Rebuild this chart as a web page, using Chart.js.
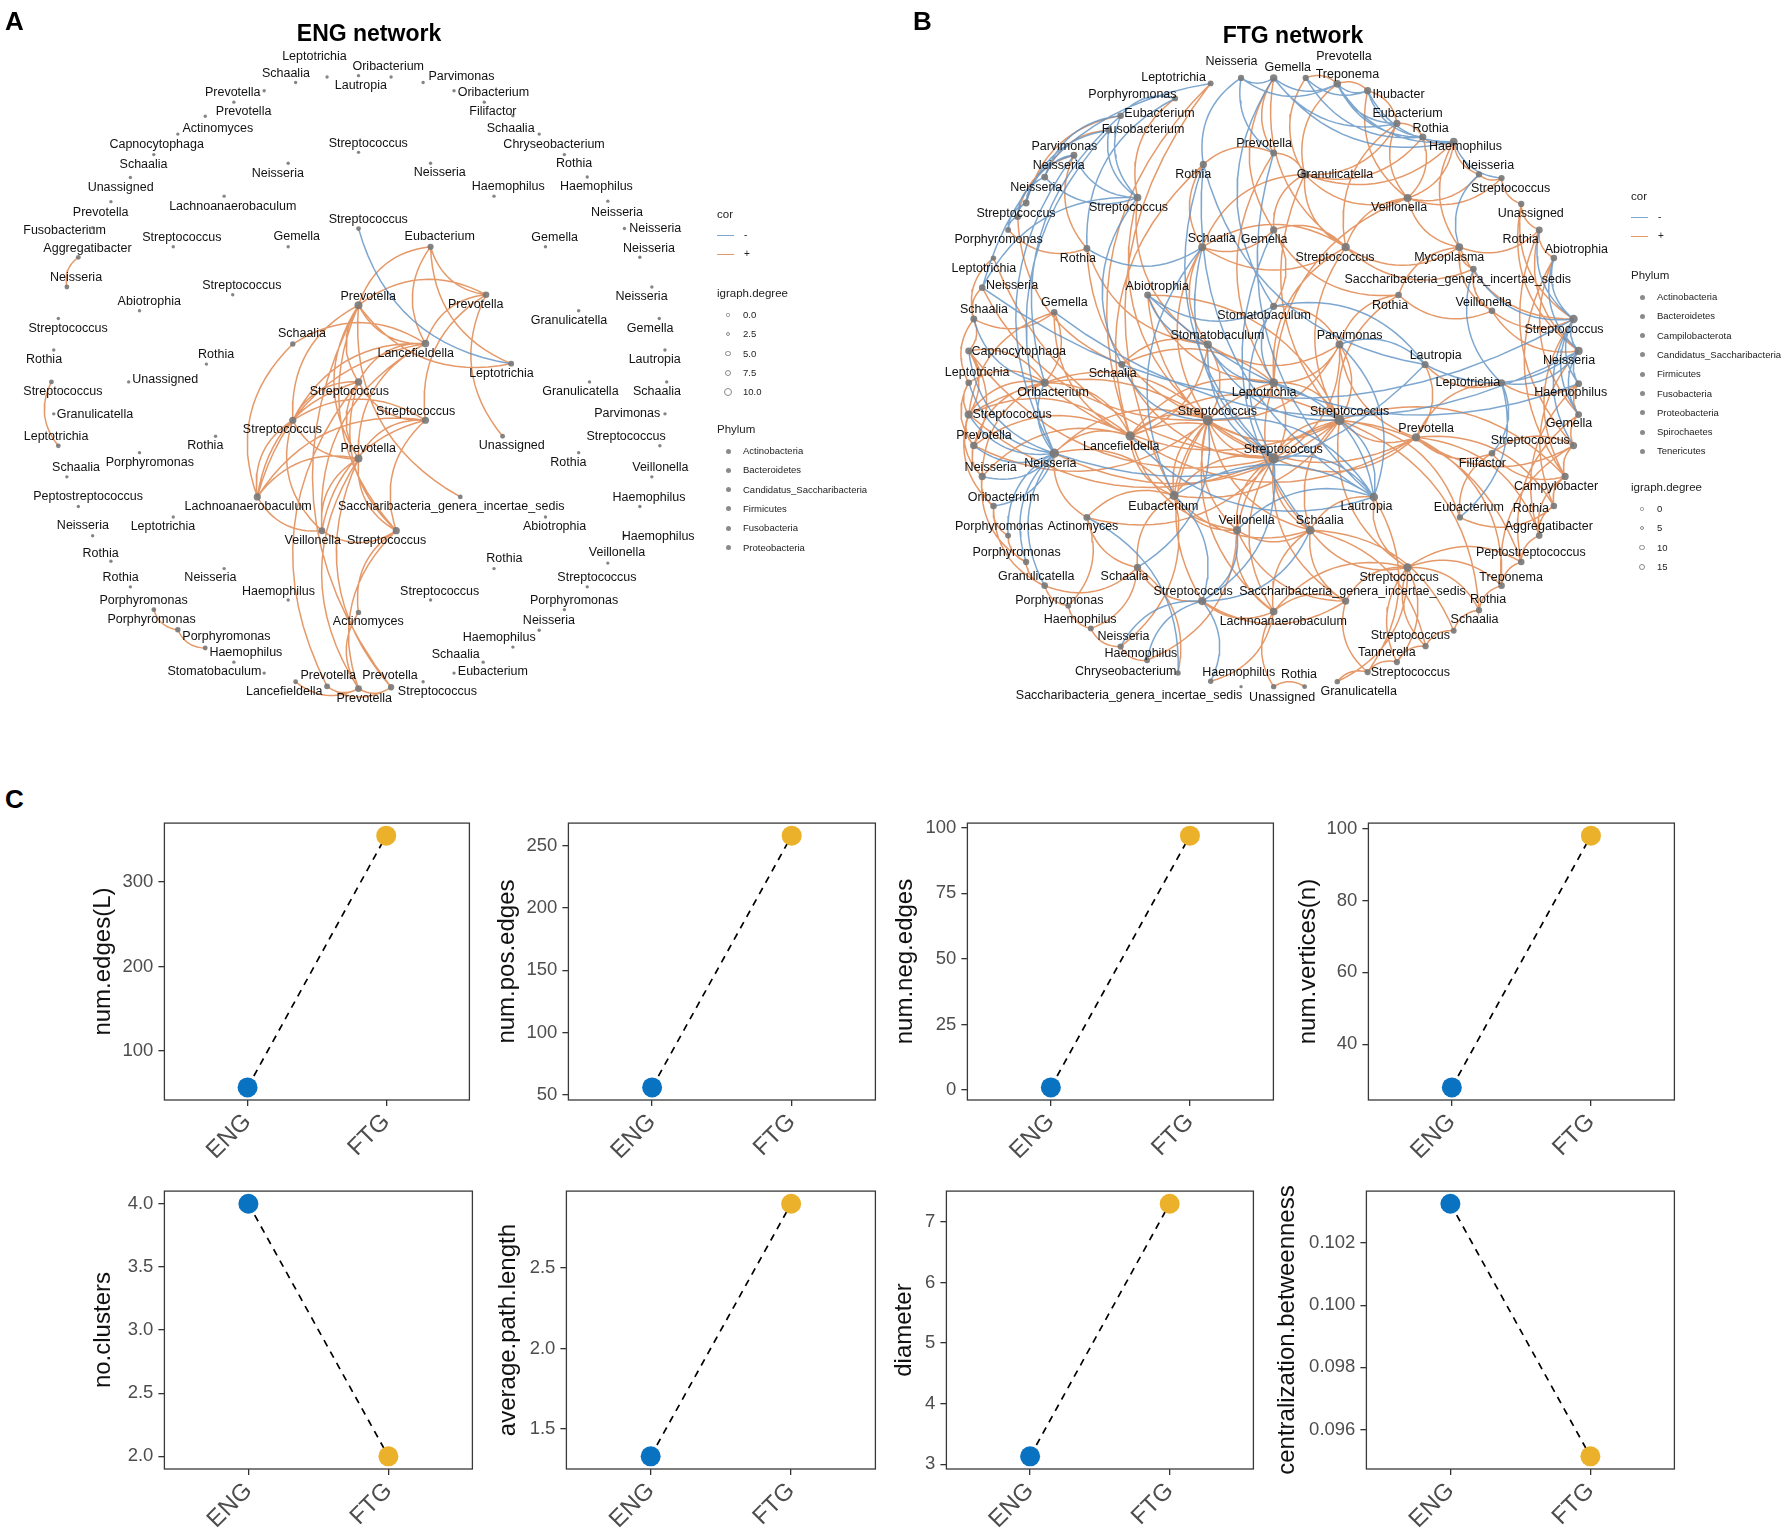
<!DOCTYPE html>
<html><head><meta charset="utf-8">
<script src="https://cdn.jsdelivr.net/npm/chart.js@4.4.0/dist/chart.umd.min.js"></script>
<style>
body{margin:0;background:#fff;width:1788px;height:1539px;position:relative;overflow:hidden;font-family:Arial,"Liberation Sans",Helvetica,sans-serif;}
.box{position:absolute;}
.t{position:absolute;white-space:nowrap;color:#000;line-height:1;}
.lg{position:absolute;white-space:nowrap;color:#222;line-height:1;}
</style></head><body>
<div class="box" style="left:0;top:0;width:900px;height:720px"><canvas id="eng"></canvas></div>
<div class="box" style="left:900px;top:0;width:888px;height:720px"><canvas id="ftg"></canvas></div>
<div id="root"></div>
<script>
// ---------------- DATA ----------------
// ENG network: node names, layout coordinates, label coordinates
const engNames = ["Lautropia","Oribacterium","Parvimonas","Oribacterium","Filifactor","Schaalia","Chryseobacterium","Rothia","Haemophilus","Neisseria","Neisseria","Neisseria","Neisseria","Gemella","Lautropia","Schaalia","Parvimonas","Streptococcus","Veillonella","Haemophilus","Haemophilus","Veillonella","Streptococcus","Porphyromonas","Neisseria","Haemophilus","Schaalia","Eubacterium","Streptococcus","Prevotella","Prevotella","Prevotella","Lancefieldella","Stomatobaculum","Haemophilus","Porphyromonas","Porphyromonas","Porphyromonas","Rothia","Rothia","Neisseria","Peptostreptococcus","Schaalia","Leptotrichia","Granulicatella","Streptococcus","Rothia","Streptococcus","Neisseria","Aggregatibacter","Fusobacterium","Prevotella","Unassigned","Schaalia","Capnocytophaga","Actinomyces","Prevotella","Prevotella","Schaalia","Leptotrichia","Streptococcus","Neisseria","Haemophilus","Gemella","Granulicatella","Granulicatella","Rothia","Abiotrophia","Rothia","Streptococcus","Haemophilus","Neisseria","Leptotrichia","Porphyromonas","Unassigned","Abiotrophia","Streptococcus","Lachnoanaerobaculum","Neisseria","Streptococcus","Gemella","Streptococcus","Rothia","Rothia","Eubacterium","Prevotella","Prevotella","Lancefieldella","Leptotrichia","Schaalia","Streptococcus","Streptococcus","Streptococcus","Prevotella","Unassigned","Lachnoanaerobaculum","Saccharibacteria_genera_incertae_sedis","Veillonella","Streptococcus","Actinomyces"];
const engX = [620,677,733,787,840,890,936,980,1020,1056,1085,1112,1133,1146,1156,1159,1156,1147,1133,1112,1085,1056,1020,980,936,890,838,787,733,677,620,565,510,455,402,352,304,262,221,187,155,130,110,95,87,83,87,95,110,130,155,187,221,262,304,352,402,455,510,565,620,746,857,947,1005,1024,1005,947,857,746,497,385,296,237,218,237,296,385,497,620,497,400,354,370,746,620,843,737,887,505,620,737,505,620,872,443,798,556,686,620];
const engY = [157,160,172,190,215,245,285,330,379,432,492,555,620,689,758,828,898,968,1036,1101,1165,1225,1277,1327,1372,1409,1442,1466,1485,1497,1500,1495,1485,1466,1442,1411,1371,1327,1277,1221,1165,1101,1036,968,898,828,758,689,620,555,490,433,380,330,285,246,215,190,172,160,325,349,421,532,672,828,983,1124,1237,1306,1306,1237,1124,983,828,672,532,421,349,492,532,637,789,947,532,660,637,744,788,745,828,912,912,996,947,1080,1080,1154,1154,1333];
const engLabelX = [624,672,800,856,855,886,962,997,1036,1072,1139,1128,1115,1130,1138,1142,1090,1088,1148,1128,1144,1072,1037,997,953,866,790,855,758,675,630,567,490,368,423,389,258,244,204,169,138,147,126,91,159,103,70,112,126,146,106,169,204,244,267,374,419,400,493,543,637,762,882,963,988,1008,987,963,875,762,480,361,278,255,282,254,311,400,479,637,512,416,371,352,762,637,825,720,870,521,604,720,487,637,888,427,782,540,669,637];
const engLabelY = [178,137,158,195,236,272,309,350,400,456,492,535,642,710,780,850,898,947,1015,1081,1166,1202,1257,1306,1351,1389,1425,1463,1507,1471,1521,1471,1507,1463,1421,1385,1349,1306,1256,1203,1143,1080,1015,947,899,850,779,711,600,536,497,456,402,351,309,273,236,195,152,115,305,370,401,512,693,850,1005,1146,1215,1287,1287,1256,1146,1005,823,652,512,443,371,472,510,617,767,968,510,640,659,766,810,723,850,892,933,975,968,1101,1102,1176,1176,1354];
const engPositiveEdges = [[49,48],[45,43],[37,36],[36,35],[32,30],[31,29],[30,29],[31,30],[84,85],[84,86],[84,87],[84,88],[86,85],[86,87],[86,94],[86,91],[85,87],[85,88],[85,92],[85,93],[85,96],[85,98],[85,90],[87,90],[87,92],[87,95],[87,93],[87,97],[87,89],[89,95],[90,92],[90,91],[90,93],[90,95],[90,98],[91,92],[91,95],[91,93],[91,98],[91,97],[92,93],[92,97],[92,95],[93,97],[93,98],[93,95],[95,97],[97,98],[98,99],[93,30],[93,29],[98,30],[90,31],[99,30],[85,29]];
const engNegativeEdges = [[79,88]];

// FTG network (edges use node numbers starting at 1)
const ftgNames = ["Neisseria","Gemella","Prevotella","Treponema","Leptotrichia","Ihubacter","Porphyromonas","Eubacterium","Eubacterium","Fusobacterium","Rothia","Haemophilus","Parvimonas","Prevotella","Neisseria","Rothia","Granulicatella","Neisseria","Neisseria","Streptococcus","Streptococcus","Streptococcus","Veillonella","Unassigned","Porphyromonas","Schaalia","Gemella","Rothia","Abiotrophia","Rothia","Streptococcus","Mycoplasma","Leptotrichia","Saccharibacteria_genera_incertae_sedis","Neisseria","Abiotrophia","Rothia","Veillonella","Gemella","Schaalia","Stomatobaculum","Streptococcus","Stomatobaculum","Parvimonas","Capnocytophaga","Lautropia","Neisseria","Schaalia","Leptotrichia","Leptotrichia","Leptotrichia","Oribacterium","Haemophilus","Streptococcus","Streptococcus","Streptococcus","Prevotella","Gemella","Prevotella","Lancefieldella","Streptococcus","Streptococcus","Neisseria","Neisseria","Filifactor","Campylobacter","Oribacterium","Eubacterium","Lautropia","Eubacterium","Rothia","Porphyromonas","Actinomyces","Veillonella","Schaalia","Aggregatibacter","Porphyromonas","Peptostreptococcus","Granulicatella","Schaalia","Streptococcus","Treponema","Streptococcus","Saccharibacteria_genera_incertae_sedis","Porphyromonas","Rothia","Lachnoanaerobaculum","Haemophilus","Schaalia","Neisseria","Streptococcus","Haemophilus","Tannerella","Chryseobacterium","Streptococcus","Haemophilus","Rothia","Saccharibacteria_genera_incertae_sedis","Unassigned","Granulicatella"];
const ftgX = [597,655,712,768,543,822,480,383,874,362,920,975,300,655,248,530,710,1020,215,1060,200,413,893,1095,183,528,655,1127,1153,323,783,985,157,1010,137,431,877,1043,265,122,655,1188,538,772,113,924,1197,385,113,655,1060,248,1197,538,772,113,908,1197,122,400,1188,655,137,265,1043,1173,157,478,833,986,1153,183,323,590,720,1127,215,1095,248,413,893,1060,528,783,290,1020,655,330,975,383,925,430,874,485,822,543,710,597,655,768];
const ftgY = [160,160,160,173,172,188,205,243,260,275,290,300,330,325,378,350,372,372,435,380,465,423,424,437,494,532,494,494,556,535,532,532,556,580,621,637,637,672,675,690,662,690,746,746,760,790,760,790,830,830,830,830,832,912,912,900,950,900,968,947,968,996,1036,985,985,1036,1101,1078,1081,1126,1101,1166,1126,1154,1154,1166,1224,1224,1276,1236,1236,1276,1310,1310,1320,1330,1333,1370,1375,1410,1409,1440,1444,1468,1466,1486,1498,1498,1498,1487];
const ftgLabelX = [580,680,780,786,477,877,404,452,893,423,934,996,283,638,273,512,764,1036,233,1076,197,397,878,1112,166,545,638,1094,1193,307,764,967,140,982,190,448,862,1028,283,140,638,1171,555,790,202,943,1180,369,128,638,1000,263,1183,555,790,190,926,1180,140,384,1111,672,152,258,1026,1157,175,459,820,1002,1112,167,316,607,737,1144,198,1112,233,390,878,1077,512,795,274,1036,672,311,1012,388,898,419,856,392,898,593,700,398,670,806];
const ftgLabelY = [125,138,113,152,160,196,197,238,238,274,272,310,310,305,352,372,372,352,402,403,457,444,444,457,516,512,516,516,537,556,555,555,578,603,616,619,660,653,654,669,683,712,726,726,762,770,782,810,808,852,830,851,851,893,893,900,930,920,947,970,958,977,1016,1007,1007,1058,1082,1102,1102,1105,1107,1145,1147,1133,1133,1145,1204,1203,1257,1257,1258,1258,1289,1290,1308,1307,1355,1350,1350,1387,1386,1425,1422,1465,1466,1467,1472,1518,1523,1508];
const ftgPositiveEdges = [[54,55],[54,62],[54,50],[54,60],[54,43],[54,44],[54,68],[54,74],[54,75],[54,52],[54,56],[54,64],[54,57],[54,87],[54,83],[55,62],[55,50],[55,44],[55,57],[55,75],[55,36],[55,81],[55,74],[55,60],[62,50],[62,60],[62,68],[62,74],[62,75],[62,44],[62,57],[62,87],[62,84],[50,44],[50,60],[50,68],[50,75],[50,48],[60,52],[60,56],[60,64],[60,59],[60,68],[60,74],[60,43],[60,63],[68,74],[68,75],[68,64],[68,80],[68,73],[74,75],[74,87],[74,84],[75,81],[75,87],[75,84],[43,44],[43,48],[44,57],[44,41],[41,27],[52,56],[52,59],[52,45],[52,49],[52,63],[52,39],[56,59],[56,45],[56,63],[56,67],[59,63],[59,45],[63,67],[67,72],[72,77],[77,79],[79,85],[49,56],[45,40],[40,39],[64,73],[73,80],[39,56],[33,40],[35,40],[40,49],[49,59],[63,77],[67,79],[17,23],[17,31],[17,14],[17,27],[17,11],[17,12],[17,9],[17,26],[23,31],[23,32],[23,11],[23,12],[23,18],[23,20],[31,32],[31,34],[31,27],[31,26],[32,34],[32,37],[32,38],[32,28],[11,12],[11,9],[9,6],[6,4],[4,3],[12,18],[18,20],[20,24],[24,28],[28,29],[14,16],[2,27],[2,31],[2,14],[3,17],[4,17],[6,23],[9,31],[9,23],[12,32],[16,26],[26,27],[26,31],[27,37],[37,38],[38,42],[34,38],[53,58],[58,61],[61,66],[66,71],[71,76],[76,78],[78,82],[82,86],[86,89],[89,91],[91,93],[93,95],[95,100],[61,65],[65,66],[65,70],[66,76],[70,71],[57,61],[57,65],[46,51],[51,53],[24,42],[28,47],[32,42],[38,47],[57,46],[51,57],[81,84],[81,87],[84,87],[83,87],[83,84],[80,83],[79,80],[85,88],[88,90],[90,92],[81,91],[81,93],[84,95],[87,99],[97,99],[69,81],[69,75],[78,81],[82,81],[86,81],[45,62],[56,62],[59,54],[52,55],[64,55],[68,55],[60,57],[48,62],[73,62],[22,54],[22,43],[30,54],[30,43],[36,62],[36,50],[26,43],[26,54],[31,55],[31,50],[37,44],[37,55],[23,50],[17,55],[14,50],[16,60],[5,68],[5,60],[7,22],[13,30],[39,60],[33,62],[35,54],[21,48],[25,30],[76,57],[70,55],[71,57],[66,55],[82,57],[78,55],[86,55],[89,75],[91,75],[93,81],[100,81],[95,69],[96,87],[94,80],[92,74],[90,68],[88,80],[85,73],[8,19],[10,15],[13,21],[29,58],[28,61],[24,47],[29,66],[42,66],[47,71],[53,76],[58,78],[61,82]];
const ftgNegativeEdges = [[15,19],[15,21],[19,21],[13,15],[13,19],[8,15],[8,22],[10,19],[10,22],[7,8],[13,22],[21,25],[19,25],[15,22],[22,35],[8,52],[10,64],[13,64],[45,64],[52,64],[49,64],[63,64],[56,64],[59,64],[67,64],[64,72],[64,77],[64,79],[40,52],[43,50],[43,62],[43,55],[41,50],[41,62],[48,54],[36,43],[36,41],[69,62],[69,74],[69,50],[69,44],[69,55],[69,54],[69,68],[46,44],[46,41],[42,47],[42,53],[47,53],[42,58],[47,58],[42,61],[29,42],[28,42],[34,42],[46,47],[51,47],[1,2],[2,4],[1,4],[4,6],[6,11],[3,6],[2,12],[1,16],[1,14],[4,9],[4,12],[4,11],[6,12],[2,9],[3,11],[16,69],[16,62],[2,41],[5,35],[7,30],[27,75],[14,69],[22,48],[26,68],[26,62],[12,20],[18,32],[34,51],[29,47],[83,68],[83,62],[83,74],[83,75],[83,92],[83,90],[80,54],[94,73],[96,83],[36,53],[64,46],[60,69],[39,47],[35,42],[16,46],[30,26],[70,51],[65,51]];

// Panel C: network properties
const groups = ["ENG","FTG"];
const metricNames = ["num.edges(L)","num.pos.edges","num.neg.edges","num.vertices(n)","no.clusters","average.path.length","diameter","centralization.betweenness"];
const engValues = [57,56,1,28,4,1.33,3.13,0.10326];
const ftgValues = [355,258,97,98,2,2.90,7.30,0.09514];
const tickValues = [[100,200,300],[50,100,150,200,250],[0,25,50,75,100],[40,60,80,100],[2,2.5,3,3.5,4],[1.5,2,2.5],[3,4,5,6,7],[0.096,0.098,0.100,0.102]];
const tickLabels = [["100","200","300"],["50","100","150","200","250"],["0","25","50","75","100"],["40","60","80","100"],["2.0","2.5","3.0","3.5","4.0"],["1.5","2.0","2.5"],["3","4","5","6","7"],["0.096","0.098","0.100","0.102"]];

const engPhyla = ["Actinobacteria","Bacteroidetes","Candidatus_Saccharibacteria","Firmicutes","Fusobacteria","Proteobacteria"];
const ftgPhyla = ["Actinobacteria","Bacteroidetes","Campilobacterota","Candidatus_Saccharibacteria","Firmicutes","Fusobacteria","Proteobacteria","Spirochaetes","Tenericutes"];
const engDegreeBreaks = ["0.0","2.5","5.0","7.5","10.0"];
const ftgDegreeBreaks = ["0","5","10","15"];

// ---------------- RENDER ----------------
Chart.defaults.font.family = 'Arial, "Liberation Sans", Helvetica, sans-serif';
Chart.defaults.animation = false;
const POS_COL = 'rgba(222,128,68,0.80)';
const NEG_COL = 'rgba(98,148,196,0.82)';
const ENG_COL = '#0A73C1';
const FTG_COL = '#ECB12A';

function arcData(xs, ys, edges, base, sx, sy) {
  const pts = [];
  const K = 0.32;
  for (const e of edges) {
    const a = e[0]-base, b = e[1]-base;
    const x1 = xs[a]*sx, y1 = ys[a]*sy, x2 = xs[b]*sx, y2 = ys[b]*sy;
    const mx = (x1+x2)/2, my = (y1+y2)/2, dx = x2-x1, dy = y2-y1;
    const cx = mx - dy*K, cy = my + dx*K;
    const n = 16;
    for (let k = 0; k <= n; k++) {
      const t = k/n, u = 1-t;
      pts.push({x:(u*u*x1+2*u*t*cx+t*t*x2)/sx, y:(u*u*y1+2*u*t*cy+t*t*y2)/sy});
    }
    pts.push({x:null, y:null});
  }
  return pts;
}

function networkChart(id, names, xs, ys, lxs, lys, pos, neg, base, sx, sy) {
  const deg = names.map(()=>0);
  for (const e of pos.concat(neg)) { deg[e[0]-base]++; deg[e[1]-base]++; }
  const radii = deg.map(d => 1.7 + 0.72*Math.sqrt(d));
  const labels = {
    id:'nodeLabels_'+id,
    afterDatasetsDraw(chart) {
      const {ctx} = chart; const X = chart.scales.x, Y = chart.scales.y;
      ctx.save();
      ctx.font = '12.5px Arial, "Liberation Sans", sans-serif';
      ctx.fillStyle = '#111'; ctx.textAlign = 'center'; ctx.textBaseline = 'middle';
      names.forEach((n,i) => ctx.fillText(n, X.getPixelForValue(lxs[i]), Y.getPixelForValue(lys[i])));
      ctx.restore();
    }
  };
  new Chart(document.getElementById(id), {
    type:'scatter',
    data:{datasets:[
      {type:'scatter', data: xs.map((x,i)=>({x:x, y:ys[i]})), pointRadius: radii, pointBackgroundColor:'rgba(120,120,120,0.9)', pointBorderWidth:0, order:0},
      {type:'line', data: arcData(xs, ys, neg, base, sx, sy), borderColor: NEG_COL, borderWidth:1.5, pointRadius:0, spanGaps:false, order:1},
      {type:'line', data: arcData(xs, ys, pos, base, sx, sy), borderColor: POS_COL, borderWidth:1.5, pointRadius:0, spanGaps:false, order:2}
    ]},
    options:{responsive:true, maintainAspectRatio:false, layout:{padding:0},
      plugins:{legend:{display:false}, tooltip:{enabled:false}},
      scales:{x:{type:'linear', min:0, max:1560, display:false}, y:{type:'linear', min:0, max:1560, reverse:true, display:false}}},
    plugins:[labels]
  });
}
networkChart('eng', engNames, engX, engY, engLabelX, engLabelY, engPositiveEdges, engNegativeEdges, 0, 900/1560, 720/1560);
networkChart('ftg', ftgNames, ftgX, ftgY, ftgLabelX, ftgLabelY, ftgPositiveEdges, ftgNegativeEdges, 1, 888/1560, 720/1560);

// ---- text & legends (HTML) ----
const root = document.getElementById('root');
function txt(s, x, y, css, cls) {
  const d = document.createElement('div'); d.className = cls||'t'; d.textContent = s;
  d.style.cssText += ';left:'+x+'px;top:'+y+'px;'+(css||''); root.appendChild(d); return d;
}
function glyph(x, y, css) {
  const d = document.createElement('div'); d.style.cssText = 'position:absolute;left:'+x+'px;top:'+y+'px;'+css; root.appendChild(d);
}
txt('A', 5, 8, 'font-weight:bold;font-size:26px;');
txt('B', 913, 8, 'font-weight:bold;font-size:26px;');
txt('C', 5, 786, 'font-weight:bold;font-size:26px;');
txt('ENG network', 369, 33, 'font-weight:bold;font-size:23px;transform:translate(-50%,-50%);');
txt('FTG network', 1293, 35, 'font-weight:bold;font-size:23px;transform:translate(-50%,-50%);');

function netLegend(x0, corY, degY, phyY, phyla, degs, order) {
  txt('cor', x0, corY-6, 'font-size:11.5px;', 'lg');
  [['-',NEG_COL],['+',POS_COL]].forEach((p,i)=>{
    const y = corY + 20 + i*19;
    glyph(x0, y, 'width:17px;height:0;border-top:1.4px solid '+p[1]+';');
    txt(p[0], x0+27, y-5, 'font-size:10px;', 'lg');
  });
  const blocks = order === 'eng' ? [['igraph.degree',degY,'deg'],['Phylum',phyY,'phy']] : [['Phylum',phyY,'phy'],['igraph.degree',degY,'deg']];
  for (const [title, y0, kind] of blocks) {
    txt(title, x0, y0-6, 'font-size:11.5px;', 'lg');
    if (kind === 'deg') {
      degs.forEach((s,i)=>{
        const y = y0 + 21 + i*19.3; const r = 1.6 + i*0.6;
        glyph(x0+11-r, y-r, 'width:'+(2*r)+'px;height:'+(2*r)+'px;border-radius:50%;border:1px solid #888;box-sizing:border-box;');
        txt(s, x0+26, y-5, 'font-size:9.5px;', 'lg');
      });
    } else {
      phyla.forEach((s,i)=>{
        const y = y0 + 21 + i*19.3;
        glyph(x0+8.5, y-2.5, 'width:5px;height:5px;border-radius:50%;background:#8a8a8a;');
        txt(s, x0+26, y-5, 'font-size:9.5px;', 'lg');
      });
    }
  }
}
netLegend(717, 215, 294, 430, engPhyla, engDegreeBreaks, 'eng');
netLegend(1631, 197, 488, 276, ftgPhyla, ftgDegreeBreaks, 'ftg');

// ---- Panel C small plots ----
const plotBoxes = [
  [164,469,821,1100,103],[568,875,821,1100,507],[967,1273,821,1100,905],[1368,1674,821,1100,1308],
  [164,472,1189,1469,103],[566,875,1189,1469,508],[946,1253,1189,1469,904],[1366,1674,1189,1469,1287]];
const boxPlugin = {
  id:'panelBox',
  afterDraw(chart){
    const {ctx, chartArea:a} = chart;
    ctx.save(); ctx.strokeStyle = '#3a3a3a'; ctx.lineWidth = 1.3;
    ctx.strokeRect(a.left, a.top, a.right-a.left, a.bottom-a.top); ctx.restore();
  }
};
metricNames.forEach((name, i) => {
  const b = plotBoxes[i];
  const L = b[4] - 14.4, T = b[2] - 14, W = b[1] - L + 14, H = b[3] - T + 80;
  const div = document.createElement('div'); div.className = 'box';
  div.style.cssText = 'left:'+L+'px;top:'+T+'px;width:'+W+'px;height:'+H+'px;';
  const cv = document.createElement('canvas'); div.appendChild(cv); root.appendChild(div);
  const v0 = engValues[i], v1 = ftgValues[i];
  const lo = Math.min(v0,v1), hi = Math.max(v0,v1), pad = (hi-lo)*0.05;
  new Chart(cv, {
    type:'scatter',
    data:{datasets:[
      {type:'scatter', data:[{x:1,y:v0},{x:2,y:v1}], pointRadius:10, pointHoverRadius:10, pointBackgroundColor:[ENG_COL,FTG_COL], pointBorderWidth:0, clip:false, order:0},
      {type:'line', data:[{x:1,y:v0},{x:2,y:v1}], borderColor:'#000', borderWidth:1.7, borderDash:[7,6], pointRadius:0, order:1}
    ]},
    options:{responsive:true, maintainAspectRatio:false,
      layout:{padding:{left:0, top:14, right:14, bottom:0}},
      plugins:{legend:{display:false}, tooltip:{enabled:false}},
      scales:{
        x:{type:'linear', min:0.4, max:2.6,
          afterBuildTicks: s => { s.ticks = [{value:1},{value:2}]; },
          afterFit: s => { s.height = 80; },
          ticks:{autoSkip:false, minRotation:45, maxRotation:45, color:'#4d4d4d', font:{size:24}, padding:2,
            callback:(v, idx) => groups[idx]},
          grid:{drawOnChartArea:false, drawTicks:true, tickLength:6, color:'#333', lineWidth:1.3},
          border:{display:false}},
        y:{type:'linear', min:lo-pad, max:hi+pad,
          afterBuildTicks: s => { s.ticks = tickValues[i].map(v=>({value:v})); },
          afterFit: s => { s.width = b[0] - L; },
          ticks:{autoSkip:false, color:'#4d4d4d', font:{size:18.5}, padding:5,
            callback:(v, idx) => tickLabels[i][idx]},
          title:{display:true, text:name, color:'#111', font:{size:24}, padding:0},
          grid:{drawOnChartArea:false, drawTicks:true, tickLength:6, color:'#333', lineWidth:1.3},
          border:{display:false}}
      }},
    plugins:[boxPlugin]
  });
});
</script>
</body></html>
